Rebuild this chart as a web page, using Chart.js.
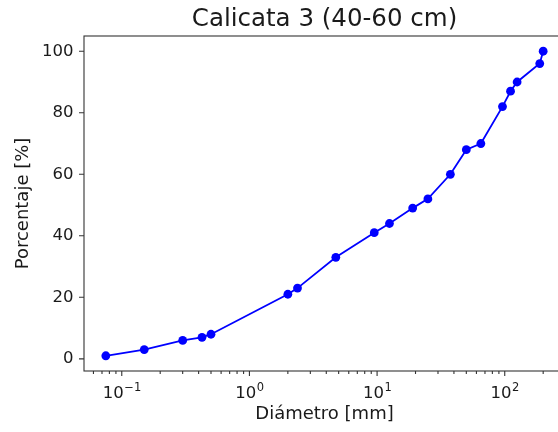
<!DOCTYPE html>
<html lang="es">
<head>
<meta charset="utf-8">
<title>Calicata 3 (40-60 cm)</title>
<script src="https://cdn.jsdelivr.net/npm/chart.js@4.4.1/dist/chart.umd.min.js"></script>
<style>
  html, body { margin: 0; padding: 0; background: #fff; overflow: hidden; }
  #marco { width: 572px; height: 432px; }
</style>
</head>
<body>
<div id="marco">
  <canvas id="granulometria" width="572" height="432"></canvas>
</div>
<script>
// Curva granulométrica, calicata 3 (40-60 cm)
const diametros = [0.075, 0.15, 0.3, 0.425, 0.5, 2.0, 2.38, 4.75, 9.5, 12.5, 19, 25, 37.5, 50, 65, 96, 111, 125, 188, 200];
const porcentajes = [1, 3, 6, 7, 8, 21, 23, 33, 41, 44, 49, 52, 60, 68, 70, 82, 87, 90, 96, 100];

// eje x logarítmico: potencias de diez con su exponente
const ticksX = [0.1, 1, 10, 100];
const exponentesX = ['\u22121', '0', '1', '2'];
const ticksY = [0, 20, 40, 60, 80, 100];

const fuente = 'DejaVu Sans';
const colorTexto = '#1a1a1a';
const colorEjes = '#333';
const tamTicks = 16.5;

// Marco de los ejes, marcas de graduación y etiquetas 10^n al estilo matplotlib
const marcoEjes = {
  id: 'marcoEjes',
  afterDraw(chart) {
    const { ctx, chartArea: a, scales: { x, y } } = chart;
    ctx.save();
    ctx.strokeStyle = colorEjes;
    ctx.lineWidth = 1.1;
    ctx.strokeRect(a.left, a.top, a.right - a.left, a.bottom - a.top);

    ctx.beginPath();
    ticksY.forEach(v => {
      const py = y.getPixelForValue(v);
      ctx.moveTo(a.left - 5, py);
      ctx.lineTo(a.left, py);
    });
    // marcas mayores y menores del eje logarítmico
    for (let e = -2; e <= 2; e++) {
      for (let m = 1; m <= 9; m++) {
        const v = m * Math.pow(10, e);
        if (v < x.min || v > x.max) continue;
        const px = x.getPixelForValue(v);
        const largo = m === 1 ? 5 : 3;
        ctx.moveTo(px, a.bottom);
        ctx.lineTo(px, a.bottom + largo);
      }
    }
    ctx.stroke();

    // etiquetas con superíndice
    const base = '10';
    const fBase = tamTicks + 'px "' + fuente + '"';
    const fExp = (tamTicks * 0.7).toFixed(1) + 'px "' + fuente + '"';
    const yBase = a.bottom + 26.5;
    ctx.fillStyle = colorTexto;
    ctx.textBaseline = 'alphabetic';
    ctx.textAlign = 'left';
    ticksX.forEach((v, i) => {
      const px = x.getPixelForValue(v);
      ctx.font = fBase;
      const wb = ctx.measureText(base).width;
      ctx.font = fExp;
      const we = ctx.measureText(exponentesX[i]).width;
      const x0 = px - (wb + we) / 2;
      ctx.font = fBase;
      ctx.fillText(base, x0, yBase);
      ctx.font = fExp;
      ctx.fillText(exponentesX[i], x0 + wb + 0.5, yBase - 6.4);
    });
    ctx.restore();
  }
};

new Chart(document.getElementById('granulometria'), {
  type: 'line',
  data: {
    datasets: [{
      data: diametros.map((d, i) => ({ x: d, y: porcentajes[i] })),
      borderColor: '#0000ff',
      backgroundColor: '#0000ff',
      borderWidth: 1.8,
      pointRadius: 4.4,
      pointHoverRadius: 4.4,
      pointBorderWidth: 0,
      tension: 0,
      fill: false
    }]
  },
  options: {
    responsive: false,
    animation: false,
    devicePixelRatio: 1,
    layout: { padding: { left: 0, top: 0, right: 7, bottom: 0 } },
    plugins: {
      legend: { display: false },
      tooltip: { enabled: false },
      title: {
        display: true,
        fullSize: false,
        text: 'Calicata 3 (40-60 cm)',
        color: colorTexto,
        font: { family: fuente, size: 24.5, weight: 'normal' },
        padding: { top: 5, bottom: 1.6 }
      }
    },
    scales: {
      x: {
        type: 'logarithmic',
        min: 0.0506,
        max: 296.5,
        grid: { display: false, drawTicks: false },
        border: { display: false },
        afterBuildTicks: scale => { scale.ticks = ticksX.map(v => ({ value: v })); },
        afterFit: scale => { scale.height = 61; },
        ticks: { display: false },
        title: {
          display: true,
          text: 'Diámetro [mm]',
          color: colorTexto,
          font: { family: fuente, size: 18 },
          padding: { top: 0, bottom: 7 }
        }
      },
      y: {
        min: -3.95,
        max: 104.95,
        grid: { display: false, drawTicks: false },
        border: { display: false },
        afterBuildTicks: scale => { scale.ticks = ticksY.map(v => ({ value: v })); },
        afterFit: scale => { scale.width = 84; },
        ticks: {
          padding: 10.5,
          color: colorTexto,
          font: { family: fuente, size: tamTicks }
        },
        title: {
          display: true,
          text: 'Porcentaje [%]',
          color: colorTexto,
          font: { family: fuente, size: 18 },
          padding: { top: 12.5, bottom: 0 }
        }
      }
    }
  },
  plugins: [marcoEjes]
});
</script>
</body>
</html>
